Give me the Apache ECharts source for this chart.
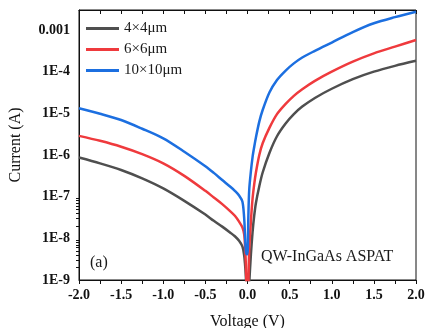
<!DOCTYPE html>
<html>
<head>
<meta charset="utf-8">
<script src="https://cdn.jsdelivr.net/npm/echarts@6/dist/echarts.min.js"></script>
<style>
html,body{margin:0;padding:0;background:#fff;}
#main{width:425px;height:328px;}
</style>
</head>
<body>
<div id="main"></div>
<script>
// Voltage (V)
var voltage = [-2, -1.75, -1.5, -1.25, -1, -0.75, -0.5, -0.4, -0.3, -0.2, -0.15, -0.1, -0.06, -0.04, -0.03, -0.02, -0.01, 0,
  0.01, 0.02, 0.04, 0.06, 0.08, 0.1, 0.14, 0.18, 0.26, 0.35, 0.45, 0.55, 0.65, 0.8, 1.0, 1.25, 1.5, 1.75, 2.0];
// Current (A)
var current4x4 = [8.71e-7, 6.31e-7, 4.37e-7, 2.75e-7, 1.58e-7, 7.94e-8, 3.72e-8, 2.63e-8, 1.91e-8, 1.35e-8, 1.12e-8, 8.71e-9, 6.31e-9, 3.98e-9, 2.51e-9, 1.26e-9, 3.98e-10, 1e-10,
  2.51e-10, 7.94e-10, 3.98e-9, 1.41e-8, 3.55e-8, 7.08e-8, 1.78e-7, 3.8e-7, 1.12e-6, 2.82e-6, 5.62e-6, 9.55e-6, 1.45e-5, 2.34e-5, 3.89e-5, 6.61e-5, 1.0e-4, 1.38e-4, 1.82e-4];
var current6x6 = [2.88e-6, 2.19e-6, 1.58e-6, 1.05e-6, 6.31e-7, 3.16e-7, 1.38e-7, 9.55e-8, 6.61e-8, 4.37e-8, 3.47e-8, 2.51e-8, 1.82e-8, 1.26e-8, 7.08e-9, 2.51e-9, 5.01e-10, 1e-10,
  6.31e-10, 5.01e-9, 2.51e-8, 8.91e-8, 2.0e-7, 3.8e-7, 1.0e-6, 1.91e-6, 4.47e-6, 9.55e-6, 1.66e-5, 2.63e-5, 3.8e-5, 6.03e-5, 1.0e-4, 1.74e-4, 2.75e-4, 3.98e-4, 5.75e-4];
var current10x10 = [1.32e-5, 9.77e-6, 6.92e-6, 4.27e-6, 2.51e-6, 1.2e-6, 5.37e-7, 3.72e-7, 2.51e-7, 1.7e-7, 1.38e-7, 1.07e-7, 7.59e-8, 3.16e-8, 1.26e-8, 5.01e-9, 4.17e-9, 4.17e-9,
  3.16e-8, 1.41e-7, 3.98e-7, 8.91e-7, 1.58e-6, 2.63e-6, 6.31e-6, 1.2e-5, 3.16e-5, 6.31e-5, 1.05e-4, 1.58e-4, 2.19e-4, 3.16e-4, 5.01e-4, 8.91e-4, 1.45e-3, 2.04e-3, 2.75e-3];

var seriesNames = ['4\u00d74\u03bcm', '6\u00d76\u03bcm', '10\u00d710\u03bcm'];
var seriesColors = ['#4f4f4f', '#ef3a3d', '#1c6fe0'];
var seriesData = [current4x4, current6x6, current10x10];

var yTickExps = [-9, -8, -7, -6, -5, -4, -3];
var xTickLabels = ['-2.0', '-1.5', '-1.0', '-0.5', '0.0', '0.5', '1.0', '1.5', '2.0'];

var YMIN = -9, YMAX = -2.52;
var minorLog = [];
[-9, -8].forEach(function (n) {
  for (var k = 2; k <= 9; k++) minorLog.push(n + Math.log10(k));
});

var font = '"Liberation Serif", "Times New Roman", serif';
var chart = echarts.init(document.getElementById('main'), null, {renderer: 'canvas'});

var series = seriesData.map(function (arr, i) {
  return {
    name: seriesNames[i],
    type: 'line',
    symbol: 'none',
    smooth: 0.3,
    clip: true,
    lineStyle: {color: seriesColors[i], width: 2.5},
    itemStyle: {color: seriesColors[i]},
    data: voltage.map(function (v, j) { return [v, Math.log10(arr[j])]; })
  };
});

chart.setOption({
  animation: false,
  backgroundColor: '#fff',
  grid: {left: 79, right: 9, top: 10, bottom: 48, show: true, borderColor: '#111', borderWidth: 1,
    backgroundColor: 'transparent', containLabel: false, outerBoundsMode: 'none'},
  legend: {
    orient: 'vertical', left: 86, top: 21, padding: 0,
    icon: 'rect', itemWidth: 33, itemHeight: 3, itemGap: 6,
    data: seriesNames,
    textStyle: {fontFamily: font, fontSize: 15, color: '#1a1a1a', lineHeight: 15}
  },
  xAxis: [{
    type: 'value', position: 'bottom', min: -2, max: 2, interval: 0.5,
    axisLine: {show: true, onZero: false, lineStyle: {color: '#111', width: 1}},
    axisTick: {show: true, inside: false, length: 4, lineStyle: {color: '#111'}},
    minorTick: {show: true, splitNumber: 2, length: 4, lineStyle: {color: '#111'}},
    splitLine: {show: false},
    axisLabel: {
      margin: 8, fontFamily: font, fontWeight: 'bold', fontSize: 14, color: '#111',
      formatter: function (v) { return xTickLabels[Math.round((v + 2) / 0.5)]; }
    },
    name: 'Voltage (V)', nameLocation: 'middle', nameGap: 34,
    nameTextStyle: {fontFamily: font, fontSize: 16, color: '#111'}
  }, {
    type: 'value', position: 'top', min: -2, max: 2, interval: 0.5,
    axisLine: {show: true, onZero: false, lineStyle: {color: '#111', width: 1}},
    axisTick: {show: true, inside: true, length: 4, lineStyle: {color: '#111'}},
    minorTick: {show: true, splitNumber: 2, length: 4, lineStyle: {color: '#111'}},
    splitLine: {show: false},
    axisLabel: {show: false}
  }],
  yAxis: [{
    type: 'value', position: 'left', min: YMIN, max: YMAX, interval: 1,
    axisLine: {show: true, onZero: false, lineStyle: {color: '#111', width: 1}},
    axisTick: {show: true, inside: false, length: 3, customValues: minorLog, lineStyle: {color: '#111'}},
    splitLine: {show: false},
    axisLabel: {
      margin: 9, fontFamily: font, fontWeight: 'bold', fontSize: 14, color: '#111',
      showMaxLabel: false,
      formatter: function (v) {
        var e = Math.round(v);
        if (yTickExps.indexOf(e) < 0 || Math.abs(v - e) > 1e-6) return '';
        return e === -3 ? '0.001' : '1E' + e;
      }
    },
    name: 'Current (A)', nameLocation: 'middle', nameGap: 55,
    nameTextStyle: {fontFamily: font, fontSize: 16, color: '#111'}
  }],
  graphic: [{
    type: 'text', left: 90, top: 255,
    style: {text: '(a)', font: '16px ' + font, fill: '#1a1a1a'}
  }, {
    type: 'text', left: 261, top: 249,
    style: {text: 'QW-InGaAs ASPAT', font: '16px ' + font, fill: '#1a1a1a'}
  }],
  series: series
});
</script>
</body>
</html>
